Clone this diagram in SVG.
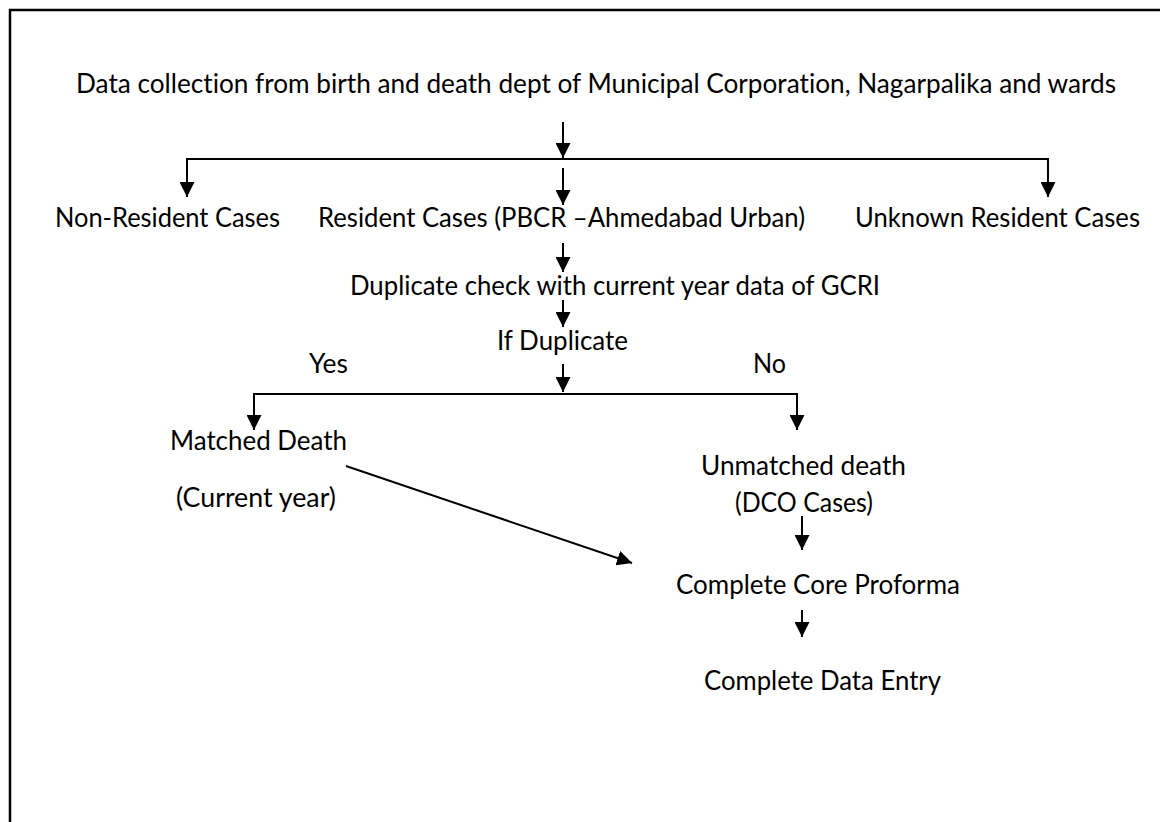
<svg xmlns="http://www.w3.org/2000/svg" width="1160" height="822" viewBox="0 0 1160 822">
<style>
  text { font-family: Lato, "Open Sans", "Liberation Sans", sans-serif; font-size: 26px; fill: #000; font-variant-ligatures: none; }
  .ln { stroke: #000; stroke-width: 2; fill: none; }
  .ar { stroke: #000; stroke-width: 2; fill: none; marker-end: url(#ah); }
  .frame { stroke: #000; stroke-width: 2.5; fill: none; }
</style>
<defs>
  <marker id="ah" markerUnits="userSpaceOnUse" markerWidth="16" markerHeight="15" refX="15" refY="7.5" orient="auto" viewBox="0 0 16 15">
    <path d="M0,0 L15,7.5 L0,15 z" fill="#000"/>
  </marker>
</defs>
<rect x="0" y="0" width="1160" height="822" fill="#fff"/>
<path class="frame" d="M10,822 L10,10 L1160,10"/>

<g id="connectors">
  <line class="ar" x1="563" y1="122" x2="563" y2="158"/>
  <line class="ln" x1="186" y1="159" x2="1049" y2="159"/>
  <line class="ar" x1="187" y1="159" x2="187" y2="197"/>
  <line class="ar" x1="563" y1="168" x2="563" y2="205"/>
  <line class="ar" x1="1048" y1="159" x2="1048" y2="197"/>
  <line class="ar" x1="563" y1="243" x2="563" y2="272"/>
  <line class="ar" x1="563" y1="300" x2="563" y2="327"/>
  <line class="ar" x1="563" y1="364" x2="563" y2="392"/>
  <line class="ln" x1="253" y1="394" x2="798" y2="394"/>
  <line class="ar" x1="254" y1="394" x2="254" y2="430"/>
  <line class="ar" x1="797" y1="394" x2="797" y2="430"/>
  <line class="ar" x1="346" y1="466" x2="632" y2="563"/>
  <line class="ar" x1="802" y1="516" x2="802" y2="550"/>
  <line class="ar" x1="802" y1="610" x2="802" y2="637"/>
</g>

<g id="n-title"><text x="76" y="93" textLength="1040" lengthAdjust="spacingAndGlyphs">Data collection from birth and death dept of Municipal Corporation, Nagarpalika and wards</text></g>
<g id="n-nonres"><text x="55" y="227" textLength="225" lengthAdjust="spacingAndGlyphs">Non-Resident Cases</text></g>
<g id="n-res"><text x="318" y="227" textLength="487" lengthAdjust="spacingAndGlyphs">Resident Cases (PBCR –Ahmedabad Urban)</text></g>
<g id="n-unknown"><text x="855" y="227" textLength="285" lengthAdjust="spacingAndGlyphs">Unknown Resident Cases</text></g>
<g id="n-dupcheck"><text x="350" y="295" textLength="530" lengthAdjust="spacingAndGlyphs">Duplicate check with current year data of GCRI</text></g>
<g id="n-ifdup"><text x="497" y="350" textLength="131" lengthAdjust="spacingAndGlyphs">If Duplicate</text></g>
<g id="l-yes"><text x="309" y="373" textLength="39" lengthAdjust="spacingAndGlyphs">Yes</text></g>
<g id="l-no"><text x="753" y="373" textLength="33" lengthAdjust="spacingAndGlyphs">No</text></g>
<g id="n-matched">
  <text x="170" y="450" textLength="177" lengthAdjust="spacingAndGlyphs">Matched Death</text>
  <text x="176" y="507" textLength="160" lengthAdjust="spacingAndGlyphs">(Current year)</text>
</g>
<g id="n-unmatched">
  <text x="701" y="475" textLength="205" lengthAdjust="spacingAndGlyphs">Unmatched death</text>
  <text x="735" y="512" textLength="138" lengthAdjust="spacingAndGlyphs">(DCO Cases)</text>
</g>
<g id="n-core"><text x="676" y="594" textLength="284" lengthAdjust="spacingAndGlyphs">Complete Core Proforma</text></g>
<g id="n-entry"><text x="704" y="690" textLength="237" lengthAdjust="spacingAndGlyphs">Complete Data Entry</text></g>
</svg>
